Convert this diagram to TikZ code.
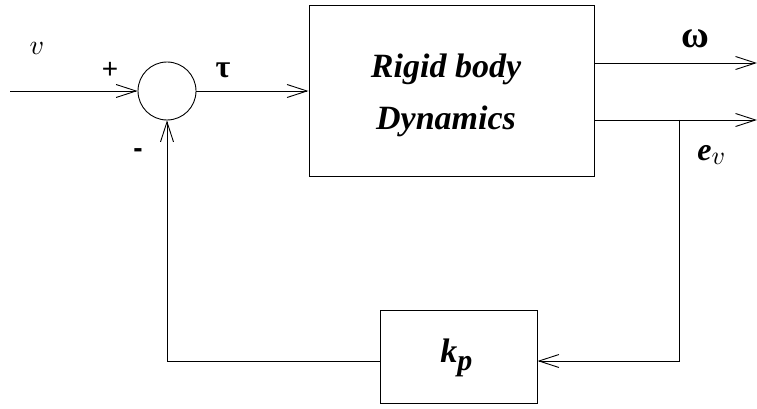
\documentclass[tikz,border=0pt]{standalone}
\usepackage{graphicx}
\usepackage{fontspec}
\setmainfont{Liberation Serif}
\newfontfamily\hel{Liberation Sans}
\usetikzlibrary{arrows.meta}
\newcommand\bigv[1]{{\fontsize{10}{10}\selectfont\scalebox{#1}{$v$}}}
\begin{document}
\begin{tikzpicture}[x=1pt,y=-1pt,
  line width=0.9pt,
  arr/.style={-{Straight Barb[length=20pt,width=13pt,line width=0.9pt]}},
  blk/.style={draw,line width=1pt,inner sep=0pt},
  lbl/.style={inner sep=0pt},
  big/.style={lbl,anchor=base,font=\fontsize{34}{34}\selectfont\bfseries\itshape}]
\useasboundingbox (0,0) rectangle (757,409);
% nodes
\node[draw,circle,minimum size=58pt,inner sep=0pt] (sum) at (167,91) {};
\node[blk,minimum width=285pt,minimum height=170pt] (rb) at (451.5,91) {};
\node[big] at (446,78) {Rigid body};
\node[big] at (446,130) {Dynamics};
\node[blk,minimum width=157pt,minimum height=93pt] (kp) at (458.5,356.5) {};
\node[big,anchor=base west] at (440,362) {k\raisebox{-8pt}{\fontsize{30}{30}\selectfont p}};
% coordinates
\coordinate (in) at (10,91);
\coordinate (o1s) at (594,63);
\coordinate (o1e) at (757,63);
\coordinate (o2s) at (594,120);
\coordinate (o2e) at (757,120);
\coordinate (br) at (679,120);
\coordinate (c1) at (679,361);
\coordinate (c2) at (167,361);
% connectors
\draw[arr] (in) -- (sum.west);
\draw[arr] (sum.east) -- (sum.east -| rb.west);
\draw[arr] (o1s) -- (o1e);
\draw[arr] (o2s) -- (o2e);
\draw[arr] (br) -- (c1) -- (c1 -| kp.east);
\draw[arr] (c1 -| kp.west) -- (c2) -- (sum.south);
% labels
\node[lbl] at (37,48) {\bigv{2.8}};
\node[lbl,font=\hel\fontsize{28}{28}\selectfont] at (110,70) {+};
\node[lbl,font=\hel\bfseries\fontsize{28}{28}\selectfont] at (138,153) {-};
\node[lbl,font=\bfseries\fontsize{32}{32}\selectfont] at (223,70) {τ};
\node[lbl,font=\bfseries\fontsize{38}{38}\selectfont] at (695,39) {ω};
\node[lbl,anchor=base west,font=\fontsize{32}{32}\selectfont] at (697,160) {\textbf{\textit{e}}\raisebox{-5pt}{\bigv{2.6}}};
\end{tikzpicture}
\end{document}
